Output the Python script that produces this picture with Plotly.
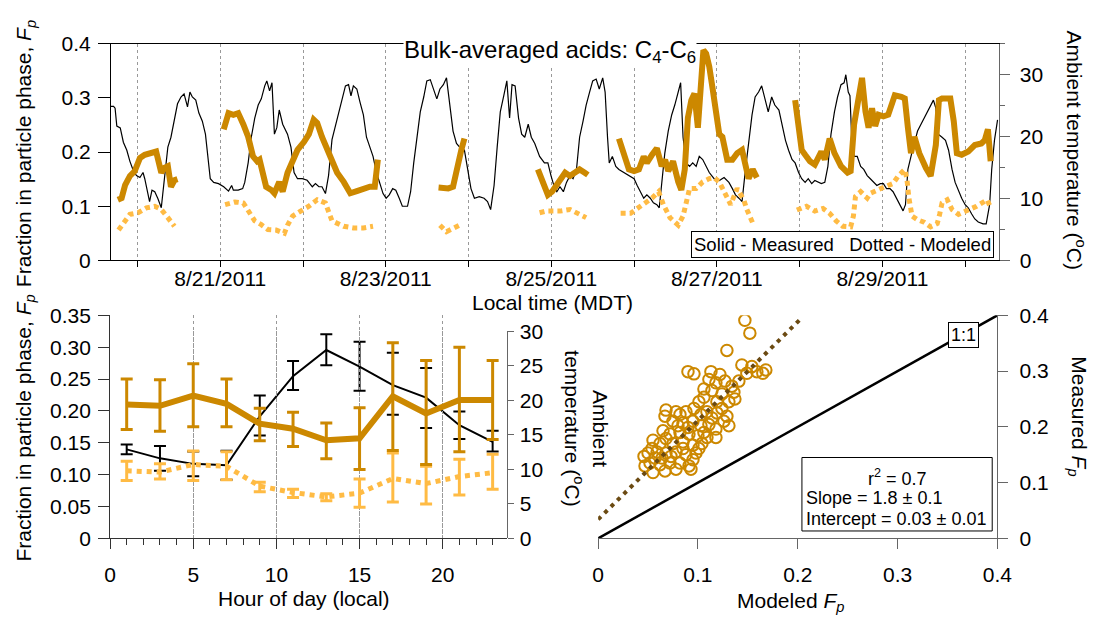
import plotly.graph_objects as go
import pandas as pd

W, H = 1095, 619
def px(x): return x / W
def py(y): return 1 - y / H

BASE = pd.Timestamp("2011-08-20 00:00")
def to_time(hours):
    return [None if h is None else (BASE + pd.Timedelta(hours=h)).strftime("%Y-%m-%d %H:%M:%S") for h in hours]

ORANGE = "#CC8800"
LIGHT = "#FFBB44"
DARK = "#6B4A12"
GRAY = "#666666"

# ---------------- top panel: time series (hours since 2011-08-20 00:00 MDT) -------------
temp_hours = [-7.7, -6.95, -6.5, -6.0, -5.0, -4.1, -3.1, -2.2, -1.2, -0.3, 0.7, 1.6, 2.1, 2.9, 3.5, 4.2, 5.0, 5.9, 6.9, 7.3,
              8.0, 8.8, 9.7, 10.7, 11.6, 12.6, 13.5, 14.5, 15.2, 15.9, 16.9, 17.8, 18.8, 19.7, 20.2, 21.1, 22.1, 23.5, 25.0, 26.4,
              27.3, 27.8, 29.2, 30.5, 31.1, 32.1, 33.0, 34.0, 35.0, 35.9, 36.9, 37.5, 38.3, 39.0, 39.7, 40.4, 41.1, 42.1, 43.5, 44.5,
              45.4, 46.4, 47.8, 49.2, 50.7, 51.6, 52.6, 53.5, 54.5, 55.4, 56.4, 57.3, 58.4, 59.3, 60.3, 61.2, 61.9, 62.6, 63.6, 64.5,
              65.5, 66.4, 67.4, 68.3, 69.3, 70.2, 71.2, 72.1, 73.0, 74.0, 74.9, 75.9, 76.8, 78.3, 79.2, 80.1, 81.1, 82.0, 83.0, 83.9,
              84.9, 85.8, 86.8, 87.7, 88.7, 89.6, 90.6, 91.5, 92.5, 93.4, 94.8, 95.8, 96.7, 97.7, 99.1, 100.5, 101.5, 102.4, 103.4, 104.3,
              105.2, 106.2, 107.1, 107.9, 108.6, 109.5, 110.5, 111.4, 112.3, 113.3, 114.2, 115.2, 116.6, 118.0, 119.0, 119.9, 121.0, 121.6, 122.5, 123.5,
              124.4, 125.4, 126.3, 127.3, 128.2, 129.2, 130.1, 131.1, 132.0, 133.0, 133.9, 134.9, 135.6, 136.3, 136.8, 137.7, 138.7, 139.6, 141.1, 142.5,
              144.0, 144.9, 145.8, 146.8, 147.7, 148.7, 149.6, 150.6, 151.3, 152.0, 152.9, 153.9, 154.9, 155.8, 156.8, 157.5, 158.2, 159.1, 160.1, 161.0,
              162.0, 162.9, 163.9, 164.9, 165.8, 167.2, 168.7, 170.1, 171.5, 172.5, 173.4, 174.4, 175.3, 176.3, 177.2, 178.2, 179.1, 180.1, 181.0, 182.0,
              182.9, 183.9, 184.8, 186.0, 186.9, 187.9, 188.8, 189.8, 190.7, 191.7, 192.6, 193.6, 194.5, 195.5, 196.4, 197.4, 198.3, 199.3, 200.2, 201.1,
              202.1, 203.0, 204.0, 204.9, 205.4, 206.1, 206.6, 207.1, 207.8, 208.7, 209.7, 210.6, 211.6, 212.5, 213.5, 214.4, 215.4, 216.3, 217.2, 218.2,
              219.1, 220.1, 221.0, 222.0, 222.7, 223.4, 224.3, 225.3, 226.2, 227.2, 228.1, 229.1, 230.0, 230.8, 231.5, 232.2, 233.3, 234.3, 235.2, 236.2,
              237.1, 238.1, 239.0, 240.0, 240.9, 241.9, 242.8, 243.8, 245.2, 246.1, 247.1, 247.7, 248.5, 249.4]
temp_values = [24.9, 24.9, 24.6, 21.7, 21.4, 19.1, 17.8, 16.0, 14.5, 13.7, 13.4, 14.2, 13.2, 11.1, 9.5, 11.35, 11.1, 10.0, 8.5, 10.6,
               14.7, 18.3, 19.9, 22.5, 25.3, 26.4, 26.9, 24.8, 27.2, 26.4, 25.9, 23.8, 22.5, 20.4, 17.8, 13.2, 12.6, 12.4, 11.9, 11.2,
               12.1, 11.35, 11.35, 11.6, 12.6, 15.8, 19.9, 23.0, 25.1, 26.1, 28.2, 29.0, 27.4, 28.7, 20.4, 21.45, 24.3, 22.0, 20.4, 18.3,
               14.2, 13.2, 13.2, 12.95, 11.9, 12.4, 11.9, 11.9, 10.8, 13.7, 19.5, 21.5, 24.0, 26.4, 28.2, 28.4, 26.6, 28.2, 27.7, 25.6,
               23.5, 19.9, 18.3, 16.8, 14.2, 12.6, 10.8, 10.05, 10.6, 11.6, 11.35, 10.05, 8.75, 8.75, 11.1, 15.75, 20.4, 24.0, 26.4, 29.0,
               29.2, 27.7, 26.1, 27.7, 28.4, 29.5, 25.1, 20.9, 18.9, 18.3, 17.8, 14.7, 11.6, 10.05, 10.3, 10.05, 9.5, 8.2, 12.1, 18.3,
               24.0, 26.6, 29.0, 23.0, 28.4, 28.2, 23.0, 20.4, 19.9, 22.0, 19.9, 18.9, 16.8, 15.75, 15.75, 13.7, 11.6, 11.1, 11.9, 11.1,
               12.6, 13.7, 13.2, 14.7, 19.9, 22.5, 25.1, 27.2, 29.0, 29.3, 27.7, 29.5, 27.2, 19.9, 15.75, 16.8, 15.2, 14.7, 14.2, 13.7,
               13.2, 12.1, 11.1, 10.05, 10.6, 10.05, 9.3, 9.0, 8.5, 12.6, 17.3, 20.9, 23.5, 25.1, 27.2, 28.7, 19.9, 15.75, 15.2, 15.75,
               15.2, 16.8, 16.3, 15.2, 14.2, 13.2, 12.9, 13.4, 12.6, 11.6, 10.6, 10.05, 9.5, 14.7, 19.4, 23.5, 26.4, 27.2, 28.2, 26.1,
               24.0, 26.4, 25.1, 24.3, 22.0, 19.4, 17.8, 16.3, 15.75, 14.2, 13.2, 12.6, 13.2, 12.4, 12.9, 12.6, 12.4, 12.6, 15.2, 20.4,
               24.0, 26.4, 28.4, 28.7, 30.0, 27.2, 26.6, 19.9, 16.8, 16.8, 15.2, 14.7, 13.7, 13.2, 12.6, 12.1, 12.4, 12.4, 11.6, 11.6,
               11.1, 10.05, 9.0, 8.0, 9.0, 14.7, 16.8, 18.9, 20.9, 22.0, 23.0, 24.0, 25.1, 25.9, 24.6, 20.4, 19.9, 19.4, 17.8, 14.7,
               12.6, 11.1, 10.05, 9.0, 8.5, 7.5, 6.7, 6.2, 5.9, 5.9, 9.0, 14.7, 19.4, 22.7]

meas_hours = [-5.7, -4.6, -3.6, -2.2, -0.8, 0.7, 2.1, 5.4, 6.9, 7.8, 8.8, 9.7, 10.7, 11.6, None,
              25.0, 26.4, 27.8, 29.2, 30.7, 32.1, 33.5, 34.7, 35.4, 36.4, 37.3, 38.8, 39.7, 41.1, 42.1, 43.5, 45.0, 46.4, 48.3, 49.7,
              51.1, 52.1, 53.5, 55.0, 56.4, 57.9, 59.8, 61.7, 63.6, 65.5, 67.4, 68.8, 69.7, None,
              87.3, 88.7, 90.1, 91.5, 92.5, 93.9, 94.8, None,
              116.1, 117.6, 119.0, 120.2, 121.6, 123.0, 124.0, 125.4, 126.8, 128.2, 129.7, 130.6, None,
              139.6, 141.1, 142.5, 144.0, 145.4, 146.8, 147.7, 149.2, 150.6, 152.0, 153.0, 153.9, 155.3, 156.8, 157.7, 158.7, 159.6, 160.6,
              161.5, 162.5, 163.4, 164.1, 164.9, 165.8, 166.8, 167.7, 168.7, 169.6, 171.0, 172.5, 173.9, 175.3, 176.3, 177.2, 178.4, 179.6, None,
              190.7, 191.7, 192.6, 193.6, 195.0, 196.4, 198.3, 199.3, 200.7, 202.1, 204.0, 205.9, 206.8, 207.8, 208.9, 210.1, 211.1, 212.0,
              213.0, 213.9, 214.9, 216.3, 217.7, 218.7, 219.6, 221.5, 222.5, 223.4, 224.3, 225.3, 226.7, 228.6, 230.0, 231.5, 232.4, 233.3,
              235.7, 236.7, 237.6, 239.0, 240.9, 242.8, 244.7, 245.7, 246.6, 247.4]
meas_values = [0.112, 0.115, 0.139, 0.156, 0.165, 0.189, 0.195, 0.201, 0.162, 0.171, 0.174, 0.136, 0.148, 0.150, None,
               0.242, 0.272, 0.269, 0.272, 0.251, 0.228, 0.192, 0.183, 0.186, 0.156, 0.136, 0.130, 0.124, 0.145, 0.127, 0.162, 0.186, 0.204, 0.219, 0.233,
               0.260, 0.254, 0.228, 0.204, 0.180, 0.162, 0.145, 0.124, 0.128, 0.132, 0.136, 0.136, 0.186, None,
               0.1345, 0.1345, 0.133, 0.136, 0.168, 0.204, 0.225, None,
               0.168, 0.145, 0.121, 0.127, 0.139, 0.151, 0.162, 0.156, 0.162, 0.168, 0.162, 0.158, None,
               0.225, 0.198, 0.168, 0.165, 0.168, 0.192, 0.180, 0.195, 0.207, 0.174, 0.186, 0.165, 0.183, 0.145, 0.130, 0.168, 0.263, 0.296,
               0.308, 0.245, 0.328, 0.388, 0.382, 0.358, 0.316, 0.275, 0.233, 0.228, 0.186, 0.186, 0.198, 0.204, 0.168, 0.151, 0.168, 0.153, None,
               0.296, 0.251, 0.204, 0.195, 0.183, 0.177, 0.201, 0.186, 0.225, 0.198, 0.174, 0.162, 0.165, 0.251, 0.299, 0.337, 0.275, 0.245,
               0.281, 0.248, 0.269, 0.266, 0.269, 0.290, 0.305, 0.302, 0.299, 0.245, 0.198, 0.228, 0.198, 0.171, 0.156, 0.213, 0.296, 0.299,
               0.299, 0.257, 0.198, 0.195, 0.201, 0.213, 0.216, 0.222, 0.242, 0.183]

mod_hours = [-5.5, -4.1, -2.2, 0.2, 2.6, 5.0, 6.9, 8.8, 10.7, None,
             25.4, 28.3, 30.7, 32.6, 34.0, 35.9, 37.8, 40.2, 42.6, 43.5, 45.0, 47.3, 49.7, 52.1, 54.5, 56.4, 59.8, 62.6, 65.5, 68.3, None,
             87.7, 89.6, 91.5, 93.4, None,
             116.6, 118.5, 120.2, 122.5, 125.4, 127.8, 130.1, None,
             140.1, 143.0, 145.4, 147.3, 149.2, 151.1, 152.5, 154.4, 156.8, 158.2, 159.1, 160.1, 162.0, 163.9, 165.8, 167.2, 168.7, 170.1,
             172.0, 173.9, 175.8, 176.7, 177.7, 178.6, None,
             191.2, 194.0, 196.4, 198.8, 200.7, 202.6, 204.5, 206.8, 207.6, 208.2, 209.7, 211.6, 212.5, 214.4, 216.8, 219.1, 220.6, 222.5,
             223.1, 223.7, 224.6, 226.2, 228.1, 230.0, 231.9, 232.6, 233.3, 234.8, 236.2, 238.1, 240.4, 243.3, 246.4, 247.4]
mod_values = [0.056, 0.068, 0.085, 0.088, 0.097, 0.100, 0.094, 0.079, 0.063, None,
              0.103, 0.108, 0.106, 0.088, 0.073, 0.066, 0.057, 0.056, 0.050, 0.065, 0.082, 0.091, 0.100, 0.112, 0.106, 0.073, 0.063, 0.060, 0.060, 0.063, None,
              0.065, 0.053, 0.059, 0.065, None,
              0.088, 0.091, 0.091, 0.091, 0.094, 0.085, 0.079, None,
              0.087, 0.087, 0.098, 0.106, 0.115, 0.127, 0.103, 0.079, 0.065, 0.082, 0.109, 0.133, 0.133, 0.145, 0.151, 0.153, 0.145, 0.127,
              0.103, 0.133, 0.112, 0.094, 0.076, 0.066, None,
              0.093, 0.100, 0.091, 0.096, 0.087, 0.073, 0.063, 0.062, 0.082, 0.118, 0.127, 0.115, 0.124, 0.130, 0.136, 0.142, 0.156, 0.168,
              0.151, 0.115, 0.082, 0.075, 0.0705, 0.062, 0.068, 0.085, 0.106, 0.112, 0.094, 0.085, 0.091, 0.100, 0.112, 0.097]

day_ticks = ["2011-08-%02d" % d for d in range(20, 31)]
day_labels = ["" if d % 2 == 0 else "8/%d/2011" % d for d in range(20, 31)]
top_x_range = [-7.7, 249.7]

# ---------------- bottom left: diurnal profiles ----------------
hour_of_day = [1, 3, 5, 7, 9, 11, 13, 15, 17, 19, 21, 23]
diurnal_meas = [0.210, 0.208, 0.224, 0.211, 0.180, 0.172, 0.154, 0.157, 0.223, 0.196, 0.217, 0.217]
diurnal_meas_hi = [0.250, 0.249, 0.274, 0.250, 0.204, 0.198, 0.181, 0.205, 0.307, 0.279, 0.300, 0.279]
diurnal_meas_lo = [0.171, 0.168, 0.175, 0.175, 0.153, 0.144, 0.125, 0.108, 0.138, 0.116, 0.136, 0.155]
diurnal_mod = [0.106, 0.104, 0.116, 0.113, 0.082, 0.072, 0.065, 0.071, 0.094, 0.086, 0.097, 0.103]
diurnal_mod_hi = [0.121, 0.117, 0.137, 0.136, 0.088, 0.077, 0.070, 0.093, 0.134, 0.113, 0.124, 0.132]
diurnal_mod_lo = [0.091, 0.093, 0.091, 0.092, 0.073, 0.064, 0.059, 0.049, 0.057, 0.054, 0.068, 0.077]
diurnal_temp = [12.9, 11.6, 10.8, 10.6, 17.7, 23.5, 27.3, 24.9, 22.2, 20.4, 16.4, 14.0]
diurnal_temp_hi = [13.6, 13.4, 12.6, 12.7, 20.7, 25.7, 29.6, 28.5, 26.9, 24.7, 18.4, 15.6]
diurnal_temp_lo = [12.2, 9.8, 9.0, 8.5, 14.9, 21.5, 25.1, 21.4, 17.9, 16.0, 14.4, 12.6]

# ---------------- bottom right: measured vs modeled ----------------
scatter_modeled = [0.147, 0.152, 0.129, 0.090, 0.096, 0.113, 0.122, 0.144, 0.149, 0.159, 0.168, 0.165,
                   0.111, 0.118, 0.127, 0.134, 0.106, 0.114, 0.124, 0.136, 0.119, 0.131, 0.101, 0.068,
                   0.078, 0.088, 0.096, 0.103, 0.109, 0.119, 0.129, 0.131, 0.126, 0.075, 0.085, 0.095,
                   0.103, 0.111, 0.118, 0.065, 0.072, 0.082, 0.091, 0.100, 0.109, 0.055, 0.062, 0.075,
                   0.085, 0.095, 0.104, 0.050, 0.059, 0.068, 0.078, 0.088, 0.098, 0.052, 0.062, 0.072,
                   0.082, 0.091, 0.055, 0.067, 0.078, 0.093, 0.073, 0.064, 0.057, 0.085, 0.101, 0.114,
                   0.124, 0.137, 0.106, 0.141, 0.154, 0.082, 0.067, 0.090, 0.080, 0.068, 0.047, 0.046,
                   0.054, 0.095, 0.106, 0.118]
scatter_measured = [0.391, 0.368, 0.337, 0.299, 0.295, 0.299, 0.294, 0.311, 0.296, 0.299, 0.302, 0.296,
                    0.285, 0.279, 0.282, 0.273, 0.268, 0.265, 0.259, 0.262, 0.245, 0.245, 0.245, 0.230,
                    0.227, 0.227, 0.233, 0.222, 0.227, 0.225, 0.219, 0.202, 0.210, 0.210, 0.207, 0.210,
                    0.202, 0.204, 0.196, 0.193, 0.187, 0.190, 0.187, 0.184, 0.181, 0.176, 0.170, 0.170,
                    0.173, 0.167, 0.170, 0.153, 0.155, 0.153, 0.155, 0.150, 0.153, 0.135, 0.132, 0.135,
                    0.135, 0.130, 0.118, 0.121, 0.124, 0.124, 0.147, 0.144, 0.144, 0.161, 0.161, 0.216,
                    0.233, 0.250, 0.253, 0.282, 0.308, 0.222, 0.219, 0.199, 0.202, 0.179, 0.130, 0.147,
                    0.161, 0.141, 0.190, 0.181]
fit_x = [0.0, 0.202]
fit_y = [0.034, 0.392]
one_to_one = [0.0, 0.4]

fig = go.Figure()

# top panel
fig.add_trace(go.Scatter(x=to_time(temp_hours), y=temp_values, mode="lines",
                         line=dict(color="black", width=1.2), xaxis="x", yaxis="y"))
fig.add_trace(go.Scatter(x=to_time(mod_hours), y=mod_values, mode="lines", connectgaps=False,
                         line=dict(color=LIGHT, width=5, dash="5px,4px"), xaxis="x", yaxis="y2"))
fig.add_trace(go.Scatter(x=to_time(meas_hours), y=meas_values, mode="lines", connectgaps=False,
                         line=dict(color=ORANGE, width=6), xaxis="x", yaxis="y2"))

# bottom-left panel
def err(v, hi, lo):
    return [h - x for x, h in zip(v, hi)], [x - l for x, l in zip(v, lo)]

tp, tm = err(diurnal_temp, diurnal_temp_hi, diurnal_temp_lo)
fig.add_trace(go.Scatter(x=hour_of_day, y=diurnal_temp, mode="lines", line=dict(color="black", width=2),
                         error_y=dict(type="data", symmetric=False, array=tp, arrayminus=tm,
                                      color="black", thickness=2, width=6),
                         xaxis="x2", yaxis="y3"))
mp, mm = err(diurnal_mod, diurnal_mod_hi, diurnal_mod_lo)
fig.add_trace(go.Scatter(x=hour_of_day, y=diurnal_mod, mode="lines", line=dict(color=LIGHT, width=5, dash="5px,5px"),
                         error_y=dict(type="data", symmetric=False, array=mp, arrayminus=mm,
                                      color=LIGHT, thickness=3, width=6),
                         xaxis="x2", yaxis="y4"))
sp, sm = err(diurnal_meas, diurnal_meas_hi, diurnal_meas_lo)
fig.add_trace(go.Scatter(x=hour_of_day, y=diurnal_meas, mode="lines", line=dict(color=ORANGE, width=6),
                         error_y=dict(type="data", symmetric=False, array=sp, arrayminus=sm,
                                      color=ORANGE, thickness=3, width=6),
                         xaxis="x2", yaxis="y4"))

# scatter panel
fig.add_trace(go.Scatter(x=one_to_one, y=one_to_one, mode="lines", line=dict(color="black", width=2.5),
                         xaxis="x3", yaxis="y5"))
fig.add_trace(go.Scatter(x=scatter_modeled, y=scatter_measured, mode="markers",
                         marker=dict(symbol="circle-open", size=11.5, color=ORANGE, line=dict(width=2, color=ORANGE)),
                         xaxis="x3", yaxis="y5"))
fig.add_trace(go.Scatter(x=fit_x, y=fit_y, mode="lines", line=dict(color=DARK, width=4, dash="4px,5px"),
                         xaxis="x3", yaxis="y5"))

base_start = (BASE + pd.Timedelta(hours=top_x_range[0])).strftime("%Y-%m-%d %H:%M:%S")
base_end = (BASE + pd.Timedelta(hours=top_x_range[1])).strftime("%Y-%m-%d %H:%M:%S")

common = dict(zeroline=False, tickfont=dict(size=21, color="black"))

fig.update_layout(
    width=W, height=H, margin=dict(l=0, r=0, t=0, b=0),
    paper_bgcolor="white", plot_bgcolor="rgba(0,0,0,0)", showlegend=False,
    font=dict(family="Liberation Sans, Arial, sans-serif", size=21, color="black"),
    xaxis=dict(domain=[px(107), px(1012)], anchor="y", type="date", range=[base_start, base_end],
               tickmode="array", tickvals=day_ticks, ticktext=day_labels, ticks="outside", ticklen=6,
               ticklabelstandoff=-7,
               tickcolor="black", showline=True, linecolor="black", linewidth=1, mirror=True,
               showgrid=True, gridcolor="#999999", griddash="dot", gridwidth=1, **common),
    yaxis=dict(domain=[py(258), py(33)], anchor="x", side="right", range=[0, 35],
               tickmode="array", tickvals=[0, 10, 20, 30], ticks="outside", ticklen=10, tickcolor=GRAY,
               ticklabelstandoff=6,
               minor=dict(dtick=5, tick0=0, ticks="outside", ticklen=5, tickcolor=GRAY),
               showline=True, linecolor=GRAY, linewidth=1, showgrid=False, **common),
    yaxis2=dict(overlaying="y", anchor="x", side="left", range=[0, 0.4],
                tickmode="array", tickvals=[0, 0.1, 0.2, 0.3, 0.4], ticktext=["0", "0.1", "0.2", "0.3", "0.4"],
                ticks="outside", ticklen=12, tickcolor="black", showline=True, linecolor="black", linewidth=1,
                ticklabelstandoff=3, showgrid=False, **common),
    xaxis2=dict(domain=[px(106.1), px(510.4)], anchor="y4", range=[0, 23.84],
                tickmode="array", tickvals=[0, 5, 10, 15, 20], ticks="outside", ticklen=10, tickcolor="#333333",
                ticklabelstandoff=7,
                minor=dict(dtick=1, tick0=0, ticks="outside", ticklen=6, tickcolor="#333333"),
                showline=True, linecolor="#333333", linewidth=1,
                showgrid=True, gridcolor="#999999", griddash="dot", gridwidth=1, **common),
    yaxis3=dict(domain=[py(546.7), py(331.7)], anchor="x2", side="right", range=[0, 30],
                tickmode="array", tickvals=[0, 5, 10, 15, 20, 25, 30], ticks="outside", ticklen=6, tickcolor=GRAY,
                ticklabelstandoff=2,
                showline=True, linecolor=GRAY, linewidth=1, showgrid=False, **common),
    yaxis4=dict(domain=[py(546.7), py(315)], anchor="x2", side="left", range=[0, 0.35],
                tickmode="array", tickvals=[0, 0.05, 0.1, 0.15, 0.2, 0.25, 0.3, 0.35],
                ticktext=["0", "0.05", "0.10", "0.15", "0.20", "0.25", "0.30", "0.35"],
                ticks="outside", ticklen=11, tickcolor="#333333", showline=True, linecolor="#333333", linewidth=1,
                ticklabelstandoff=3, showgrid=False, **common),
    xaxis3=dict(domain=[px(603.7), px(1010.8)], anchor="y5", range=[0, 0.4],
                tickmode="array", tickvals=[0, 0.1, 0.2, 0.3, 0.4], ticktext=["0", "0.1", "0.2", "0.3", "0.4"],
                ticks="outside", ticklen=10, tickcolor=GRAY, showline=True, linecolor=GRAY, linewidth=1,
                ticklabelstandoff=7, showgrid=False, **common),
    yaxis5=dict(domain=[py(546.7), py(315)], anchor="x3", side="right", range=[0, 0.4],
                tickmode="array", tickvals=[0, 0.1, 0.2, 0.3, 0.4], ticktext=["0", "0.1", "0.2", "0.3", "0.4"],
                ticks="outside", ticklen=10, tickcolor=GRAY, showline=True, linecolor=GRAY, linewidth=1,
                ticklabelstandoff=7, showgrid=False, **common),
)

FP = "<i>F</i><sub><i>p</i></sub>"
ann = []
def A(text, x, y, size=21, angle=0, **kw):
    d = dict(text=text, x=px(x), y=py(y), xref="paper", yref="paper", showarrow=False,
             font=dict(size=size, color="black"), textangle=angle, xanchor="center", yanchor="middle")
    d.update(kw)
    ann.append(d)

A("Bulk-averaged acids: C<sub>4</sub>-C<sub>6</sub>", 554.5, 41, size=24, bgcolor="white", borderpad=0)
A("Fraction in particle phase, " + FP, 19, 147, angle=-90)
A("Ambient temperature (<sup>o</sup>C)", 1091, 143, angle=90)
A("Local time (MDT)", 557, 302)
A("Solid - Measured\u00a0\u00a0\u00a0Dotted - Modeled", 1007, 256, size=18.5,
  bgcolor="white", bordercolor="black", borderwidth=1, borderpad=2, xanchor="right", yanchor="bottom")
A("Fraction in particle phase, " + FP, 19, 432, angle=-90)
A("Hour of day (local)", 304, 609)
A("Ambient<br>temperature (<sup>o</sup>C)", 592, 432, angle=90)
A("Modeled " + FP, 800, 613)
A("Measured " + FP, 1093, 420, angle=90)
A("1:1", 976, 335, size=18, bgcolor="white", bordercolor="black", borderwidth=1, borderpad=2)
A("r<sup>2</sup> = 0.7", 908.5, 483, size=18)
A("Slope = 1.8 \u00b1 0.1", 814, 505, size=18, xanchor="left")
A("Intercept = 0.03 \u00b1 0.01", 814, 526.5, size=18, xanchor="left")
fig.update_layout(annotations=ann)

fig.add_shape(type="rect", xref="paper", yref="paper", x0=px(811.5), x1=px(1005.5), y0=py(539), y1=py(462.7),
              line=dict(color="black", width=1), fillcolor="rgba(0,0,0,0)", layer="above")

fig.write_html("out.html")
